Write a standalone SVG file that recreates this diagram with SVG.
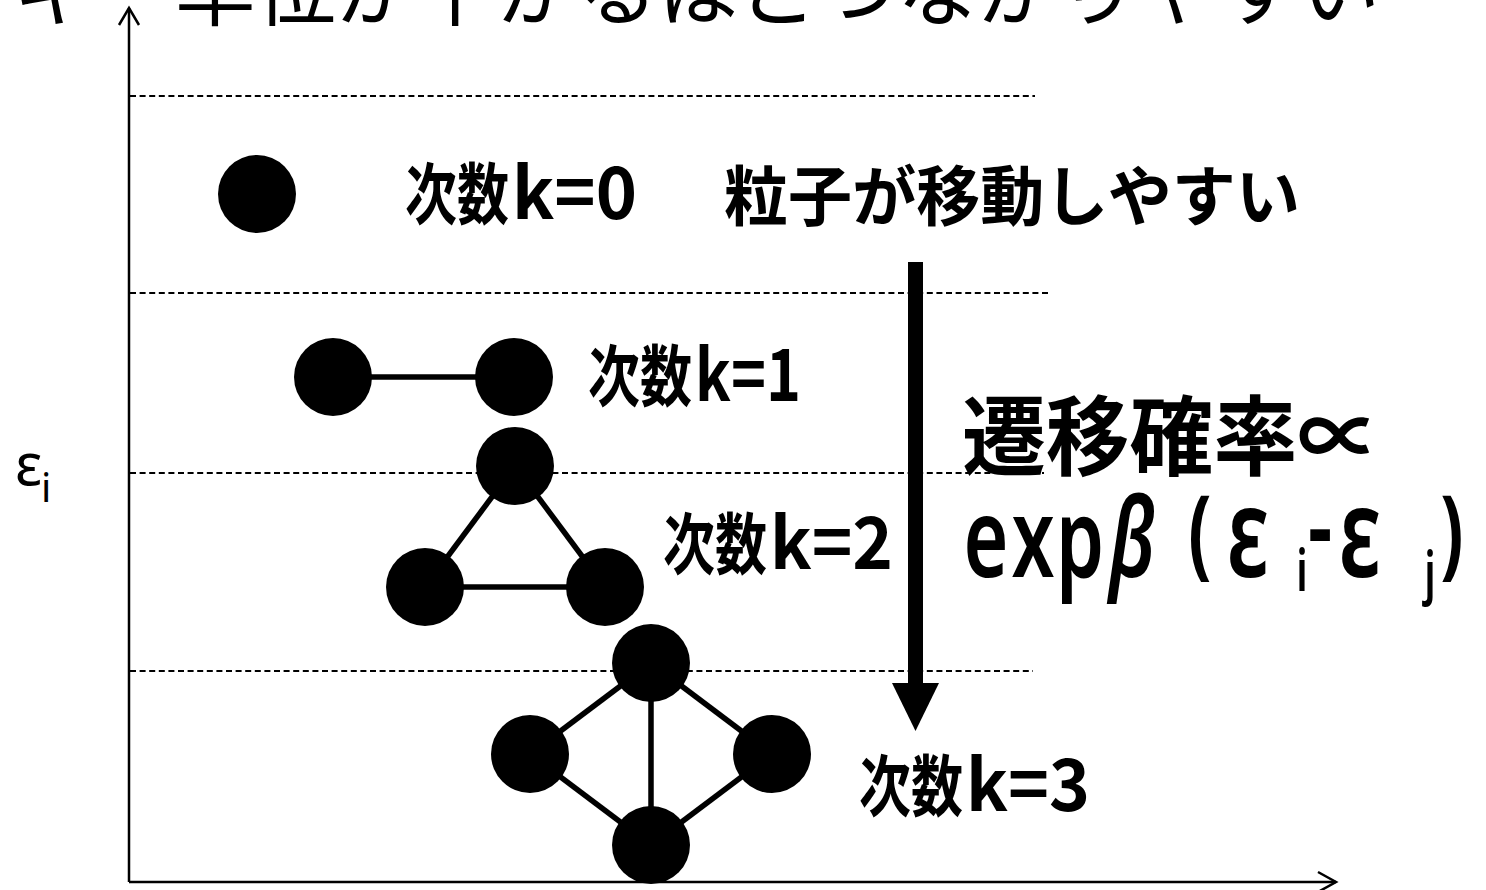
<svg xmlns="http://www.w3.org/2000/svg" width="1486" height="890" viewBox="0 0 1486 890">
<style>
.lbl{font-family:"Noto Sans CJK JP","Noto Sans",sans-serif;font-weight:700;fill:#000}
.lat{font-weight:600}
.top{font-family:"Noto Sans CJK JP",sans-serif;font-weight:400;fill:#000}
.dash{stroke:#000;stroke-width:1.8;stroke-dasharray:6 3.6;fill:none}
.axis{stroke:#000;stroke-width:2.5;fill:none}
.edge{stroke:#000;stroke-width:5.5;fill:none}
.node{fill:#000}
.math{font-family:"Noto Sans","Noto Sans CJK JP",sans-serif;font-weight:600;fill:#000}
</style>
<rect width="1486" height="890" fill="#fff"/>
<text class="top" x="14" y="19" font-size="82" textLength="1366" lengthAdjust="spacingAndGlyphs">ギー準位が下がるほどつながりやすい</text>
<g id="levels">
<line class="dash" x1="130" y1="96" x2="1035" y2="96"/>
<line class="dash" x1="130" y1="293" x2="1048" y2="293"/>
<line class="dash" x1="130" y1="473" x2="1044" y2="473"/>
<line class="dash" x1="130" y1="671" x2="1033" y2="671"/>
</g>
<g id="axes">
<line class="axis" x1="129" y1="8" x2="129" y2="882"/>
<polyline class="axis" points="119,25 129,8 139,25"/>
<line class="axis" x1="129" y1="882" x2="1336" y2="882"/>
<polyline class="axis" points="1318,872 1336,882 1318,892"/>
</g>
<text x="15" y="485" font-family="'Noto Sans',sans-serif" font-size="58" fill="#000">ε<tspan x="41" y="502" font-size="40">i</tspan></text>
<g id="connectors">
<line class="edge" x1="333" y1="377" x2="514" y2="377"/>
<line class="edge" x1="515" y1="466" x2="425" y2="587"/>
<line class="edge" x1="515" y1="466" x2="605" y2="587"/>
<line class="edge" x1="425" y1="587" x2="605" y2="587"/>
<line class="edge" x1="651" y1="663" x2="530" y2="754"/>
<line class="edge" x1="651" y1="663" x2="772" y2="754"/>
<line class="edge" x1="651" y1="663" x2="651" y2="845"/>
<line class="edge" x1="530" y1="754" x2="651" y2="845"/>
<line class="edge" x1="772" y1="754" x2="651" y2="845"/>
</g>
<g id="k0">
<circle class="node" cx="257" cy="194" r="39"/>
<text class="lbl" y="219"><tspan x="405" font-size="67" textLength="104" lengthAdjust="spacingAndGlyphs">次数</tspan><tspan class="lat" x="512" font-size="72" textLength="125" lengthAdjust="spacingAndGlyphs">k=0</tspan></text>
<text class="lbl" x="724" y="220" font-size="65" textLength="576" lengthAdjust="spacingAndGlyphs">粒子が移動しやすい</text>
</g>
<g id="k1">
<circle class="node" cx="333" cy="377" r="39"/>
<circle class="node" cx="514" cy="377" r="39"/>
<text class="lbl" y="401"><tspan x="588" font-size="67" textLength="104" lengthAdjust="spacingAndGlyphs">次数</tspan><tspan class="lat" x="695" font-size="72" textLength="106" lengthAdjust="spacingAndGlyphs">k=1</tspan></text>
</g>
<g id="k2">
<circle class="node" cx="515" cy="466" r="39"/>
<circle class="node" cx="425" cy="587" r="39"/>
<circle class="node" cx="605" cy="587" r="39"/>
<text class="lbl" y="569"><tspan x="663" font-size="67" textLength="104" lengthAdjust="spacingAndGlyphs">次数</tspan><tspan class="lat" x="770" font-size="72" textLength="123" lengthAdjust="spacingAndGlyphs">k=2</tspan></text>
</g>
<g id="k3">
<circle class="node" cx="651" cy="663" r="39"/>
<circle class="node" cx="530" cy="754" r="39"/>
<circle class="node" cx="772" cy="754" r="39"/>
<circle class="node" cx="651" cy="845" r="39"/>
<text class="lbl" y="811"><tspan x="859" font-size="67" textLength="104" lengthAdjust="spacingAndGlyphs">次数</tspan><tspan class="lat" x="966" font-size="72" textLength="124" lengthAdjust="spacingAndGlyphs">k=3</tspan></text>
</g>
<g id="transition">
<rect x="908" y="262" width="15" height="424"/>
<polygon points="892,683 939,683 915.5,731"/>
<text class="lbl" x="962" y="469" font-size="87" textLength="419" lengthAdjust="spacingAndGlyphs">遷移確率∝</text>
<g transform="scale(0.7 1)">
<text class="math" font-size="110" text-anchor="middle"><tspan x="1408.6" y="577">e</tspan><tspan x="1475.7" y="577">x</tspan><tspan x="1542.9" y="577">p</tspan><tspan x="1617.1" y="577" font-style="italic">β</tspan><tspan x="1714.3" y="566" font-size="98" font-weight="700">(</tspan><tspan x="1782.9" y="577" font-size="124">ε</tspan><tspan x="1860" y="591" font-size="58">i</tspan><tspan x="1885.7" y="565">-</tspan><tspan x="1942.9" y="577" font-size="124">ε</tspan><tspan x="2042.9" y="593" font-size="58">j</tspan><tspan x="2074.3" y="566" font-size="98" font-weight="700">)</tspan></text>
</g>
</g>
</svg>
